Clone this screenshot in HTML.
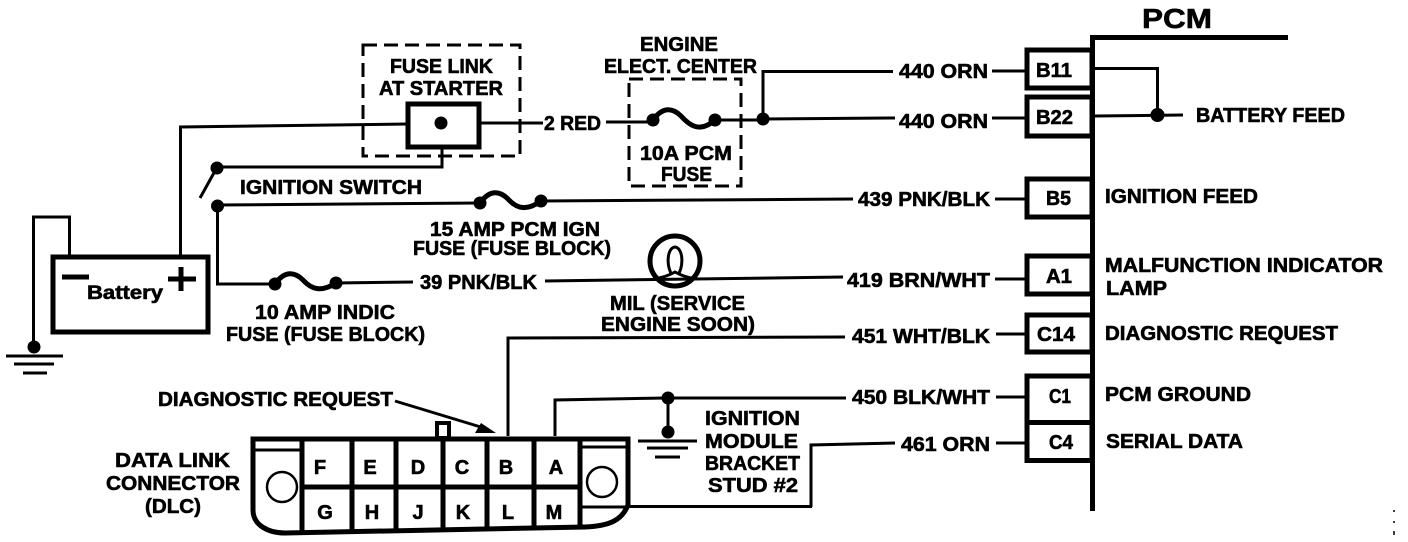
<!DOCTYPE html>
<html><head><meta charset="utf-8"><style>
html,body{margin:0;padding:0;background:#fff;width:1408px;height:542px;overflow:hidden}
svg{display:block}
text{font-family:"Liberation Sans",sans-serif;font-weight:bold;font-size:20px;fill:#000;stroke:#000;stroke-width:.6}
.w{fill:none;stroke:#000;stroke-width:3}
.t{fill:none;stroke:#000;stroke-width:5}
.d{fill:none;stroke:#000;stroke-width:3;stroke-dasharray:14 7}
</style></head><body>
<svg width="1408" height="542" viewBox="0 0 1408 542" xmlns="http://www.w3.org/2000/svg">
<!-- dashed boxes -->
<rect class="d" x="363" y="45" width="157" height="111"/>
<rect class="d" x="629" y="79" width="112" height="107"/>
<!-- battery and ground -->
<path class="w" d="M33.500 342V217H69.500V256"/>
<rect class="t" x="53" y="257" width="155" height="75"/>
<path d="M62 277H89" stroke="#000" stroke-width="5"/>
<path d="M168 279H196M181 267V291" stroke="#000" stroke-width="5"/>
<circle cx="34" cy="347" r="6.500"/>
<path class="w" d="M6 356H63M14 364H54M23 373H47"/>
<!-- feed wire -->
<path class="w" d="M180.500 256V127L407 124"/>
<rect class="t" x="408" y="104" width="71" height="43"/>
<circle cx="441" cy="123" r="6.500"/>
<path class="w" d="M480 123H543M606 122H653"/>
<!-- ignition switch -->
<path class="w" d="M217 167H442V148"/>
<circle cx="217" cy="168" r="6.500"/>
<path class="w" d="M215 171L200 198"/>
<circle cx="217.500" cy="206" r="6.500"/>
<path class="w" d="M217 205L480 203M217.500 206V284H275"/>
<!-- fuse 10 indic -->
<path class="t" d="M275 284C285 270 295 272 303 280C312 290 322 292 336 283"/>
<circle cx="275" cy="284" r="6.500"/><circle cx="336" cy="283" r="6.500"/>
<path class="w" d="M336 283L413 282"/>
<!-- fuse 15 -->
<path class="t" d="M480 203C490 189 500 191 508 199C517 209 527 211 541 201"/>
<circle cx="480" cy="203" r="6.500"/><circle cx="541" cy="201" r="6.500"/>
<path class="w" d="M541 201L853 199"/>
<!-- fuse 10A PCM -->
<path class="t" d="M653 120C663 106 673 108 681 116C690 126 700 133 715 120"/>
<circle cx="653" cy="120" r="6.500"/><circle cx="715" cy="120" r="6.500"/>
<path class="w" d="M715 120H763V71.500H893M763 119L895 118"/>
<circle cx="763" cy="119" r="6.500"/>
<!-- MIL -->
<path class="w" d="M545 281L843 277"/>
<circle cx="675" cy="261" r="25" fill="none" stroke="#000" stroke-width="5"/>
<path class="w" d="M672 275C666 265 667 248 675 247C683 248 684 265 678 275M653 279C661 278 668 276 675 272C682 276 689 278 697 279"/>
<path class="w" d="M508 436V338L845 337"/>
<!-- right wires -->
<path class="w" d="M992 71H1025M992 118H1025M995 199H1025M995 279H1025M996 334H1025M996 397H1025M996 443H1025"/>
<path class="w" d="M555 436V400L666 398H846M668 398V432M811 507V445L895 443M812 506.500H622"/>
<circle cx="668" cy="398" r="6.500"/><circle cx="668" cy="432" r="6.500"/>
<path class="w" d="M638 441H697M647 448H688M655 457H680"/>
<!-- PCM -->
<path d="M1092.500 511V37.500H1288" fill="none" stroke="#000" stroke-width="5"/>
<rect class="t" x="1027" y="50" width="65" height="38"/>
<rect class="t" x="1027" y="97" width="65" height="39"/>
<rect class="t" x="1027" y="179" width="65" height="38"/>
<rect class="t" x="1027" y="256" width="65" height="38"/>
<rect class="t" x="1027" y="315" width="65" height="37"/>
<rect class="t" x="1027" y="376" width="65" height="46.500"/>
<rect class="t" x="1027" y="422.500" width="65" height="38"/>
<path class="w" d="M1095 68.500H1157.500V115M1095 116L1183 115"/>
<circle cx="1157.500" cy="115" r="7"/>
<!-- DLC -->
<path d="M253 439H628V505C622 520 610 526 585 527L285 533C268 533 253 525 253 510Z" fill="#fff" stroke="#000" stroke-width="5"/>
<rect x="437" y="423" width="12" height="15" fill="#fff" stroke="#000" stroke-width="4"/>
<path d="M302 439V532M352 439V531M396 439V530M443 439V530M487 439V529M534 439V529M580 439V526M302 487H580" fill="none" stroke="#000" stroke-width="5"/>
<path d="M253 450H302M580 447H628M580 507H628" fill="none" stroke="#000" stroke-width="3"/>
<circle cx="282" cy="487" r="15" fill="#fff" stroke="#000" stroke-width="2.500"/>
<circle cx="602" cy="482" r="15" fill="#fff" stroke="#000" stroke-width="2.500"/>
<path class="w" d="M395 401L484 428"/>
<path d="M496 433L475 433L481 423Z"/>
<!-- labels -->
<text x="390" y="73" textLength="103" lengthAdjust="spacingAndGlyphs">FUSE LINK</text>
<text x="379" y="95" textLength="124" lengthAdjust="spacingAndGlyphs">AT STARTER</text>
<text x="544" y="130" textLength="57" lengthAdjust="spacingAndGlyphs">2 RED</text>
<text x="640" y="51" textLength="78" lengthAdjust="spacingAndGlyphs">ENGINE</text>
<text x="604" y="73" textLength="153" lengthAdjust="spacingAndGlyphs">ELECT. CENTER</text>
<text x="640" y="160" textLength="92" lengthAdjust="spacingAndGlyphs">10A PCM</text>
<text x="661" y="181" textLength="51" lengthAdjust="spacingAndGlyphs">FUSE</text>
<text x="240" y="194" textLength="182" lengthAdjust="spacingAndGlyphs">IGNITION SWITCH</text>
<text x="430" y="236" textLength="170" lengthAdjust="spacingAndGlyphs">15 AMP PCM IGN</text>
<text x="413" y="255" textLength="198" lengthAdjust="spacingAndGlyphs">FUSE (FUSE BLOCK)</text>
<text x="420" y="289" textLength="117" lengthAdjust="spacingAndGlyphs">39 PNK/BLK</text>
<text x="255" y="319" textLength="140" lengthAdjust="spacingAndGlyphs">10 AMP INDIC</text>
<text x="226" y="341" textLength="199" lengthAdjust="spacingAndGlyphs">FUSE (FUSE BLOCK)</text>
<text x="610" y="310" textLength="135" lengthAdjust="spacingAndGlyphs">MIL (SERVICE</text>
<text x="601" y="331" textLength="154" lengthAdjust="spacingAndGlyphs">ENGINE SOON)</text>
<text x="87" y="299" textLength="76" lengthAdjust="spacingAndGlyphs" style="font-size:19px">Battery</text>
<text x="899" y="78" textLength="89" lengthAdjust="spacingAndGlyphs">440 ORN</text>
<text x="899" y="128" textLength="89" lengthAdjust="spacingAndGlyphs">440 ORN</text>
<text x="858" y="206" textLength="132" lengthAdjust="spacingAndGlyphs">439 PNK/BLK</text>
<text x="847" y="287" textLength="143" lengthAdjust="spacingAndGlyphs">419 BRN/WHT</text>
<text x="852" y="343" textLength="138" lengthAdjust="spacingAndGlyphs">451 WHT/BLK</text>
<text x="852" y="404" textLength="138" lengthAdjust="spacingAndGlyphs">450 BLK/WHT</text>
<text x="901" y="451" textLength="89" lengthAdjust="spacingAndGlyphs">461 ORN</text>
<text x="1142" y="28" textLength="70" lengthAdjust="spacingAndGlyphs" style="font-size:28px">PCM</text>
<text x="1036" y="77" textLength="36" lengthAdjust="spacingAndGlyphs">B11</text>
<text x="1036" y="124" textLength="37" lengthAdjust="spacingAndGlyphs">B22</text>
<text x="1046" y="205" textLength="25" lengthAdjust="spacingAndGlyphs">B5</text>
<text x="1046" y="283" textLength="26" lengthAdjust="spacingAndGlyphs">A1</text>
<text x="1037" y="341" textLength="38" lengthAdjust="spacingAndGlyphs">C14</text>
<text x="1049" y="403" textLength="22" lengthAdjust="spacingAndGlyphs">C1</text>
<text x="1049" y="449" textLength="24" lengthAdjust="spacingAndGlyphs">C4</text>
<text x="1196" y="122" textLength="149" lengthAdjust="spacingAndGlyphs">BATTERY FEED</text>
<text x="1105" y="203" textLength="153" lengthAdjust="spacingAndGlyphs">IGNITION FEED</text>
<text x="1105" y="272" textLength="278" lengthAdjust="spacingAndGlyphs">MALFUNCTION INDICATOR</text>
<text x="1106" y="295" textLength="61" lengthAdjust="spacingAndGlyphs">LAMP</text>
<text x="1105" y="340" textLength="233" lengthAdjust="spacingAndGlyphs">DIAGNOSTIC REQUEST</text>
<text x="1105" y="401" textLength="146" lengthAdjust="spacingAndGlyphs">PCM GROUND</text>
<text x="1106" y="448" textLength="137" lengthAdjust="spacingAndGlyphs">SERIAL DATA</text>
<text x="705" y="425" textLength="95" lengthAdjust="spacingAndGlyphs">IGNITION</text>
<text x="705" y="448" textLength="93" lengthAdjust="spacingAndGlyphs">MODULE</text>
<text x="705" y="470" textLength="95" lengthAdjust="spacingAndGlyphs">BRACKET</text>
<text x="708" y="492" textLength="90" lengthAdjust="spacingAndGlyphs">STUD #2</text>
<text x="158" y="406" textLength="235" lengthAdjust="spacingAndGlyphs">DIAGNOSTIC REQUEST</text>
<text x="115" y="467" textLength="115" lengthAdjust="spacingAndGlyphs">DATA LINK</text>
<text x="106" y="490" textLength="134" lengthAdjust="spacingAndGlyphs">CONNECTOR</text>
<text x="145" y="513" textLength="56" lengthAdjust="spacingAndGlyphs">(DLC)</text>
<g text-anchor="middle">
<text x="320" y="474">F</text><text x="370" y="474">E</text><text x="418" y="474">D</text><text x="462" y="474">C</text><text x="506" y="474">B</text><text x="556" y="474">A</text>
<text x="325" y="519">G</text><text x="372" y="519">H</text><text x="418" y="519">J</text><text x="463" y="519">K</text><text x="508" y="519">L</text><text x="554" y="519">M</text>
</g>
<path d="M1394 510v2M1394 521v2M1394 531v4" stroke="#000" stroke-width="1.500"/>
</svg>
</body></html>
